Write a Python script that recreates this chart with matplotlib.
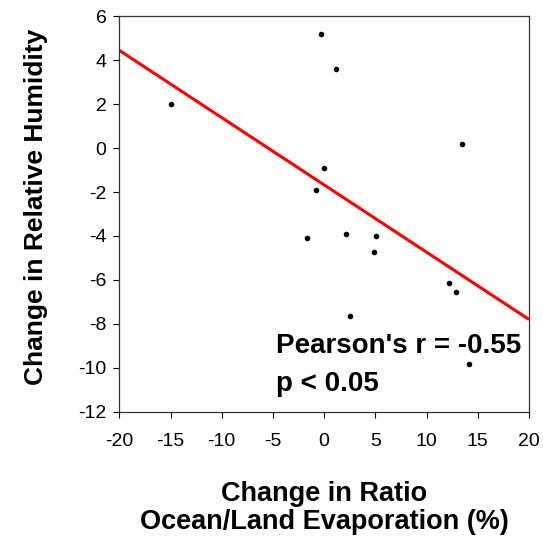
from matplotlib import pyplot as plt
import numpy as np

plt.rcParams['font.family'] = ['Liberation Sans', 'DejaVu Sans']
plt.rcParams['axes.unicode_minus'] = False

#Data
ratioChange = [-15.0, -0.3, 1.2, 13.5, 0.0, -0.8, -1.7, 2.1, 5.1, 4.9, 12.2, 12.9, 2.5, 14.1]
humidityChange = [2.0, 5.2, 3.6, 0.17, -0.9, -1.9, -4.1, -3.9, -4.0, -4.75, -6.15, -6.55, -7.65, -9.85]

#Fitted line end points
fitX = [-20, 20]
fitY = [4.45, -7.8]

xTicks = [-20, -15, -10, -5, 0, 5, 10, 15, 20]
yTicks = [6, 4, 2, 0, -2, -4, -6, -8, -10, -12]

fig = plt.figure(figsize=(5.43, 5.36), dpi=100)
ax = fig.add_axes([0.2197, 0.2319, 0.7545, 0.7377])

ax.plot(fitX, fitY, color='#ff0000', linewidth=2.2, solid_capstyle='butt', zorder=2)
ax.plot(ratioChange, humidityChange, 'o', color='black', markersize=3, zorder=3)

ax.set_xlim(-20, 20)
ax.set_ylim(-12, 6)
ax.set_xticks(xTicks)
ax.set_yticks(yTicks)
ax.tick_params(axis='both', labelsize=14, direction='out', length=4.3, width=0.8, colors='black')
ax.tick_params(axis='x', pad=11)
ax.tick_params(axis='y', pad=5)
for s in ax.spines.values():
    s.set_linewidth(0.9)
    s.set_color('#333333')

ax.set_xlabel('Change in Ratio\nOcean/Land Evaporation (%)', fontsize=19.5, fontweight='bold', linespacing=1.1)
ax.xaxis.set_label_coords(0.5, -0.176)
ax.set_ylabel('Change in Relative Humidity', fontsize=19, fontweight='bold')
ax.yaxis.set_label_coords(-0.175, 0.518)

ax.text(-4.7, -9.34, "Pearson's r = -0.55", fontsize=20, fontweight='bold', ha='left', va='baseline')
ax.text(-4.7, -11.04, "p < 0.05", fontsize=20, fontweight='bold', ha='left', va='baseline')

plt.savefig('out.png', dpi=100)
